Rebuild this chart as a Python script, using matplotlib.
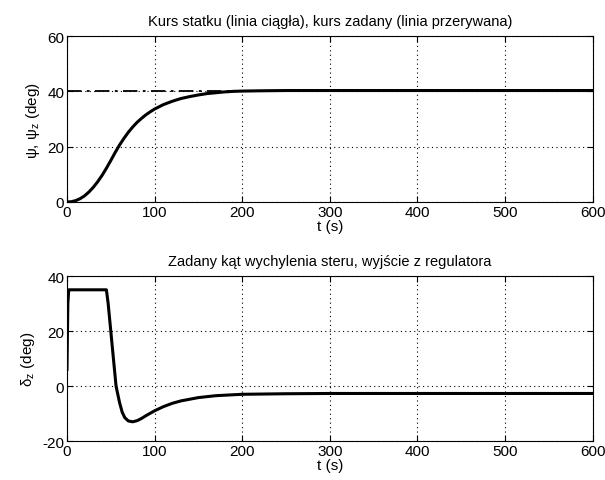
import matplotlib
matplotlib.use("Agg")
import matplotlib.pyplot as plt
import numpy as np

# Top: heading psi (deg)
t_psi = [0, 5, 10, 15, 20, 25, 30, 35, 40, 45, 50, 55, 60, 65, 70, 75, 80, 85, 90, 95, 100,
         110, 120, 130, 140, 150, 160, 170, 180, 190, 200, 220, 250, 300, 400, 500, 600]
psi = [0, 0.1, 0.5, 1.2, 2.2, 3.6, 5.3, 7.3, 9.6, 12.2, 15.0, 17.9, 20.6, 23.0, 25.2, 27.1, 28.8,
       30.2, 31.5, 32.6, 33.6, 35.2, 36.4, 37.4, 38.1, 38.7, 39.2, 39.5, 39.8, 40.0, 40.1, 40.2,
       40.3, 40.3, 40.3, 40.3, 40.3]
# Reference heading psi_z
t_ref = [0, 600]
psi_ref = [40, 40]

# Bottom: rudder command delta_z (deg)
t_del = [0, 1, 2, 3, 5, 10, 20, 30, 40, 45, 47, 50, 53, 56, 60, 63, 66, 70, 75, 80, 85, 90, 100,
         110, 120, 130, 150, 170, 200, 250, 300, 400, 500, 600]
delta = [6, 30, 35, 35, 35, 35, 35, 35, 35, 35, 30, 20, 10, 0, -6, -9.5, -11.5, -12.7, -13, -12.6,
         -11.8, -10.8, -9.0, -7.5, -6.3, -5.4, -4.2, -3.5, -3.0, -2.8, -2.7, -2.7, -2.7, -2.7]

x_ticks = [0, 100, 200, 300, 400, 500, 600]
y_ticks_top = [0, 20, 40, 60]
y_ticks_bot = [-20, 0, 20, 40]

plt.rcParams['font.family'] = ['Liberation Sans', 'DejaVu Sans']
plt.rcParams['mathtext.fontset'] = 'custom'
plt.rcParams['mathtext.rm'] = 'Liberation Sans'
plt.rcParams['mathtext.it'] = 'Liberation Sans'
plt.rcParams['axes.unicode_minus'] = False

fig = plt.figure(figsize=(6.05, 4.81), dpi=100)
ax1 = fig.add_axes([0.1107, 0.578, 0.869, 0.345])
ax2 = fig.add_axes([0.1107, 0.081, 0.869, 0.343])

def style(ax, yt, ylim):
    ax.set_xlim(0, 600)
    ax.set_ylim(*ylim)
    ax.set_xticks(x_ticks)
    ax.set_yticks(yt)
    ax.tick_params(direction='in', top=True, right=True, labelsize=11, length=4, pad=2)
    ax.grid(True, linestyle=(0, (1, 3)), color='black', linewidth=0.8)
    for s in ax.spines.values():
        s.set_linewidth(0.8)

ax1.plot(t_ref, psi_ref, color='black', linestyle=(0, (8, 3, 1.5, 3)), linewidth=1.3)
ax1.plot(t_psi, psi, color='black', linewidth=2.2)
style(ax1, y_ticks_top, (0, 60))
ax1.set_title('Kurs statku (linia ciągła), kurs zadany (linia przerywana)', fontsize=10.5, pad=8)
ax1.set_xlabel('t (s)', fontsize=11, labelpad=0)
ax1.set_ylabel(r'ψ, ψ$_{\rm z}$ (deg)', fontsize=11, labelpad=4)

ax2.plot(t_del, delta, color='black', linewidth=2.2)
style(ax2, y_ticks_bot, (-20, 40))
ax2.set_title('Zadany kąt wychylenia steru, wyjście z regulatora', fontsize=10.5, pad=8)
ax2.set_xlabel('t (s)', fontsize=11, labelpad=0)
ax2.set_ylabel(r'δ$_{\rm z}$ (deg)', fontsize=11, labelpad=4)

fig.savefig('out.png', dpi=100)
